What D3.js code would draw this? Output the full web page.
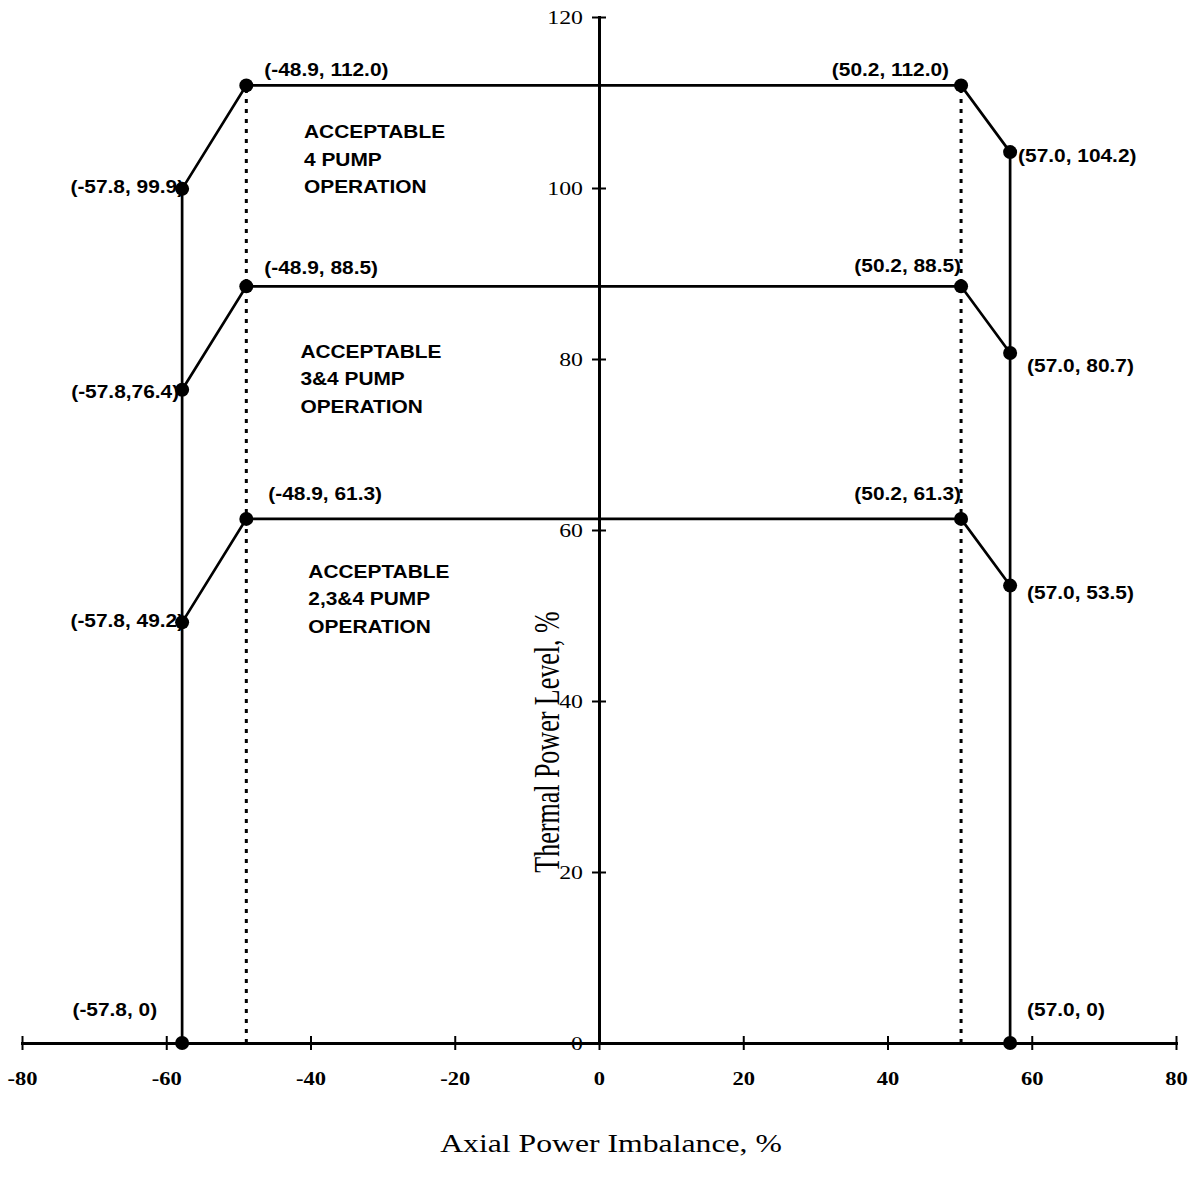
<!DOCTYPE html>
<html>
<head>
<meta charset="utf-8">
<script src="https://cdn.jsdelivr.net/npm/d3@7"></script>
<style>
  html, body { margin: 0; padding: 0; background: #fff; }
  svg { display: block; }
</style>
</head>
<body>
<svg id="chart" width="1196" height="1186"></svg>
<script>
// ---- data ----
const xTicks = [-80, -60, -40, -20, 0, 20, 40, 60, 80];
const yTicks = [0, 20, 40, 60, 80, 100, 120];
const cornerX = [-57.8, -48.9, 50.2, 57.0];
const curve4Pump = [99.9, 112.0, 112.0, 104.2];
const curve34Pump = [76.4, 88.5, 88.5, 80.7];
const curve234Pump = [49.2, 61.3, 61.3, 53.5];
const curveLabels4 = ["(-57.8, 99.9)", "(-48.9, 112.0)", "(50.2, 112.0)", "(57.0, 104.2)"];
const curveLabels34 = ["(-57.8,76.4)", "(-48.9, 88.5)", "(50.2, 88.5)", "(57.0, 80.7)"];
const curveLabels234 = ["(-57.8, 49.2)", "(-48.9, 61.3)", "(50.2, 61.3)", "(57.0, 53.5)"];
const baseX = [-57.8, 57.0];
const baseY = [0, 0];
const baseLabels = ["(-57.8, 0)", "(57.0, 0)"];
const regionLines = [
  ["ACCEPTABLE", "4 PUMP", "OPERATION"],
  ["ACCEPTABLE", "3&4 PUMP", "OPERATION"],
  ["ACCEPTABLE", "2,3&4 PUMP", "OPERATION"]
];
const xTitle = "Axial Power Imbalance, %";
const yTitle = "Thermal Power Level, %";

// ---- layout ----
const SX = 1.16;   // horizontal stretch of sans labels
const ST = 1.22;   // horizontal stretch of serif text
const svg = d3.select("#chart");
const x = d3.scaleLinear().domain([-80, 80]).range([22, 1176]);
const y = d3.scaleLinear().domain([0, 120]).range([1043, 17]);
const sans = "Arial, 'Liberation Sans', Helvetica, sans-serif";
const serif = "'Times New Roman', 'Liberation Serif', Times, serif";
const fmt = d => String(d);

const curves = [curve4Pump, curve34Pump, curve234Pump];
const curveLabelSets = [curveLabels4, curveLabels34, curveLabels234];

// dotted verticals at the inner corners
const topY = d3.max(curves.flat());
[cornerX[1], cornerX[2]].forEach(cx => {
  svg.append("line")
    .attr("x1", x(cx)).attr("x2", x(cx))
    .attr("y1", y(0)).attr("y2", y(topY))
    .attr("stroke", "#000").attr("stroke-width", 3)
    .attr("stroke-dasharray", "4,6");
});

// outer verticals
const leftTop = d3.max(curves, c => c[0]);
const rightTop = d3.max(curves, c => c[3]);
svg.append("line").attr("x1", x(cornerX[0])).attr("x2", x(cornerX[0]))
  .attr("y1", y(0)).attr("y2", y(leftTop))
  .attr("stroke", "#000").attr("stroke-width", 2.7);
svg.append("line").attr("x1", x(cornerX[3])).attr("x2", x(cornerX[3]))
  .attr("y1", y(0)).attr("y2", y(rightTop))
  .attr("stroke", "#000").attr("stroke-width", 2.7);

// x axis
const xAxis = d3.axisBottom(x).tickValues(xTicks).tickSize(7).tickSizeOuter(0).tickFormat(fmt);
const gx = svg.append("g").attr("transform", `translate(0,${y(0)})`).call(xAxis);
gx.select(".domain").attr("stroke", "#000").attr("stroke-width", 3);
gx.selectAll(".tick line").attr("y1", -7).attr("y2", 7).attr("stroke", "#000").attr("stroke-width", 2);
gx.selectAll(".tick text")
  .attr("y", 0).attr("dy", 0)
  .attr("transform", `translate(0,42) scale(${ST},1)`)
  .attr("font-family", serif).attr("font-size", 18.5).attr("font-weight", "bold").attr("fill", "#000");

// y axis
const yAxis = d3.axisLeft(y).tickValues(yTicks).tickSize(7).tickSizeOuter(0).tickFormat(fmt);
const gy = svg.append("g").attr("transform", `translate(${x(0)},0)`).call(yAxis);
gy.select(".domain").attr("stroke", "#000").attr("stroke-width", 3);
gy.selectAll(".tick line").attr("x1", -7).attr("x2", 7).attr("stroke", "#000").attr("stroke-width", 2);
gy.selectAll(".tick text")
  .attr("x", 0).attr("dy", "0.35em")
  .attr("transform", `translate(-16,0) scale(${ST},1)`)
  .attr("text-anchor", "end")
  .attr("font-family", serif).attr("font-size", 19.5).attr("fill", "#000");
svg.selectAll(".domain").attr("stroke-linecap", "square");

// boundary polylines
const line = d3.line().x(d => x(d[0])).y(d => y(d[1]));
curves.forEach(c => {
  svg.append("path")
    .datum(cornerX.map((cx, i) => [cx, c[i]]))
    .attr("d", line)
    .attr("fill", "none").attr("stroke", "#000").attr("stroke-width", 2.7);
});

// points
const pts = [];
curves.forEach((c, ci) => cornerX.forEach((cx, i) => pts.push({x: cx, y: c[i], label: curveLabelSets[ci][i], key: ci * 4 + i})));
baseX.forEach((bx, i) => pts.push({x: bx, y: baseY[i], label: baseLabels[i], key: 12 + i}));

svg.selectAll("circle.pt").data(pts).join("circle")
  .attr("class", "pt")
  .attr("cx", d => x(d.x)).attr("cy", d => y(d.y)).attr("r", 7)
  .attr("fill", "#000");

// label offsets (dx, dy, anchor) per point key
const off = [
  [2, -2, "end"], [18, -16, "start"], [-12, -16, "end"], [8, 3, "start"],
  [-3, 2, "end"], [18, -19, "start"], [0, -21, "end"], [17, 12, "start"],
  [2, -2, "end"], [22, -25, "start"], [0, -25, "end"], [17, 7, "start"],
  [-25, -33, "end"], [17, -33, "start"]
];
svg.selectAll("text.ptlab").data(pts).join("text")
  .attr("class", "ptlab")
  .attr("transform", d => `translate(${x(d.x) + off[d.key][0]},${y(d.y) + off[d.key][1]}) scale(${SX},1)`)
  .attr("text-anchor", d => off[d.key][2])
  .attr("dy", "0.36em")
  .attr("font-family", sans).attr("font-weight", "bold").attr("font-size", 18)
  .attr("fill", "#000")
  .text(d => d.label);

// region labels
const regionPos = [[-40.9, 106.6], [-41.4, 80.9], [-40.3, 55.2]];
regionLines.forEach((lines, ri) => {
  const g = svg.append("g")
    .attr("transform", `translate(${x(regionPos[ri][0])},${y(regionPos[ri][1])}) scale(${SX},1)`);
  lines.forEach((t, li) => {
    g.append("text").attr("x", 0).attr("y", li * 27.7).attr("dy", "0.36em")
      .attr("font-family", sans).attr("font-weight", "bold").attr("font-size", 18)
      .attr("fill", "#000").text(t);
  });
});

// axis titles
svg.append("text")
  .attr("transform", `translate(611,1152) scale(${ST},1)`)
  .attr("text-anchor", "middle")
  .attr("font-family", serif).attr("font-size", 26).attr("fill", "#000")
  .text(xTitle);
svg.append("text")
  .attr("transform", `translate(559,742) scale(1.38,1) rotate(-90)`)
  .attr("text-anchor", "middle")
  .attr("font-family", serif).attr("font-size", 26).attr("fill", "#000")
  .text(yTitle);
</script>
</body>
</html>
